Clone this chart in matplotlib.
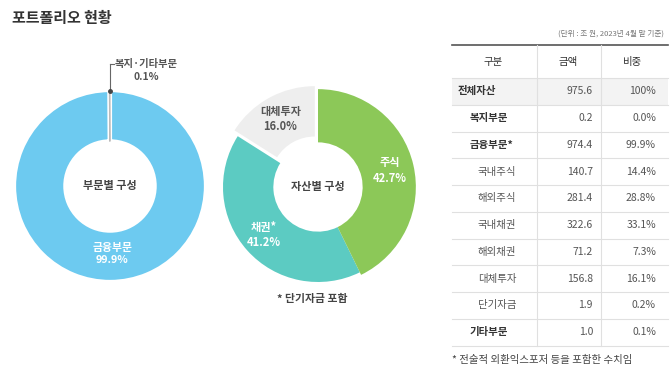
import numpy as np
import matplotlib
matplotlib.use("Agg")
import matplotlib.pyplot as plt

plt.rcParams['font.family'] = ['Noto Sans CJK KR', 'DejaVu Sans']

# ---------------- data ----------------
title = '포트폴리오 현황'
sector_labels = ['금융부문', '복지·기타부문']
sector_shares = [99.9, 0.1]
sector_center = '부문별 구성'

asset_labels = ['주식', '채권*', '대체투자']
asset_shares = [42.7, 41.2, 16.0]
asset_center = '자산별 구성'
asset_note = '* 단기자금 포함'

unit_text = '(단위 : 조 원, 2023년 4월 말 기준)'
col_headers = ['구분', '금액', '비중']
row_labels = ['전체자산', '복지부문', '금융부문*', '국내주식', '해외주식',
              '국내채권', '해외채권', '대체투자', '단기자금', '기타부문']
amounts = [975.6, 0.2, 974.4, 140.7, 281.4, 322.6, 71.2, 156.8, 1.9, 1.0]
ratios = ['100%', '0.0%', '99.9%', '14.4%', '28.8%', '33.1%', '7.3%', '16.1%', '0.2%', '0.1%']
row_level = [0, 1, 1, 2, 2, 2, 2, 2, 2, 1]
footnote = '* 전술적 외환익스포저 등을 포함한 수치임'

# ---------------- figure ----------------
W, H = 670, 376
fig = plt.figure(figsize=(W / 100, H / 100), dpi=100)
fig.patch.set_facecolor('white')

ov = fig.add_axes([0, 0, 1, 1])
ov.set_xlim(0, W)
ov.set_ylim(H, 0)
ov.axis('off')

ov.text(12, 18, title, fontsize=10.8, fontweight='bold', color='#333333',
        ha='left', va='center')

R_PX = 95
LIM = 1.2


def donut_axes(cx, cy):
    half = R_PX * LIM
    ax = fig.add_axes([(cx - half) / W, 1 - (cy + half) / H, 2 * half / W, 2 * half / H])
    ax.axis('off')
    return ax


def fix_limits(ax):
    ax.set_xlim(-LIM, LIM)
    ax.set_ylim(-LIM, LIM)
    ax.set_aspect('equal')


HOLE = 0.47

# ---- left donut ----
axL = donut_axes(110, 186)
wl, _ = axL.pie(sector_shares, startangle=90, counterclock=False,
                colors=['#6DCAF0', '#F2F2F2'], radius=1.01,
                wedgeprops=dict(width=1.01 - HOLE, edgecolor='white', linewidth=3))
fix_limits(axL)
wl[1].set_edgecolor('#BBBBBB')
wl[1].set_linewidth(0.8)
wl[1].set_zorder(3)

w = wl[0]
th = np.deg2rad((w.theta1 + w.theta2) / 2)
axL.text(0.72 * np.cos(th) + 0.02, 0.72 * np.sin(th), f'{sector_labels[0]}\n{sector_shares[0]:.1f}%',
         ha='center', va='center', fontsize=7.8, fontweight='bold', color='white', linespacing=1.25)
axL.text(0, 0, sector_center, ha='center', va='center', fontsize=8,
         fontweight='bold', color='#444444')

# leader for small slice
w = wl[1]
th = np.deg2rad((w.theta1 + w.theta2) / 2)
x0, y0 = np.cos(th), np.sin(th)
axL.plot([x0, x0], [y0, y0 + 0.28], color='#666666', lw=0.8, zorder=5, clip_on=False)
axL.plot([x0, x0 + 0.04], [y0 + 0.28, y0 + 0.28], color='#666666', lw=0.8, zorder=5, clip_on=False)
axL.plot([x0], [y0], marker='o', ms=2.5, color='#444444', zorder=6, clip_on=False)
ov.text(115, 64, sector_labels[1], ha='left', va='center', fontsize=7.4,
        fontweight='bold', color='#555555')
ov.text(146, 77, f'{sector_shares[1]:.1f}%', ha='center', va='center', fontsize=7.4,
        fontweight='bold', color='#555555')

# ---- right donut ----
axR = donut_axes(318, 187)
wr, _ = axR.pie(asset_shares, startangle=90, counterclock=False,
                colors=['#8CC858', '#5CCBC2', '#EEEEEE'], radius=1,
                explode=[0.0, 0.0, 0.07],
                wedgeprops=dict(width=1 - HOLE, edgecolor='none'))
fix_limits(axR)
# the stock slice is drawn slightly larger in the reference
wr[0].set_radius(1.03)
wr[0].set_width(1.03 - HOLE)
wr[0].set_zorder(3)

label_colors = ['white', 'white', '#555555']
label_r = [0.78, 0.76, 0.75]
for w, lab, val, c, r in zip(wr, asset_labels, asset_shares, label_colors, label_r):
    th = np.deg2rad((w.theta1 + w.theta2) / 2)
    cx, cy = w.center
    axR.text(cx + r * np.cos(th), cy + r * np.sin(th), f'{lab}\n{val:.1f}%',
             ha='center', va='center', fontsize=8, fontweight='bold', color=c,
             linespacing=1.25, zorder=5)
axR.text(0, 0, asset_center, ha='center', va='center', fontsize=8,
         fontweight='bold', color='#444444')
ov.text(312, 299, asset_note, ha='center', va='center', fontsize=7.8,
        fontweight='bold', color='#444444')

# ---------------- table ----------------
tx0, tx1 = 452, 668
vx = [537, 601]
top, head_bot = 45, 78
rh = 26.75
nrows = len(row_labels)
bottom = head_bot + rh * nrows

ov.text(664, 34, unit_text, ha='right', va='center', fontsize=5.5, color='#777777')

ov.fill_between([tx0, tx1], head_bot, head_bot + rh, color='#F3F3F3', lw=0, zorder=0)

ov.plot([tx0, tx1], [top, top], color='#555555', lw=1.2)
ov.plot([tx0, tx1], [head_bot, head_bot], color='#E0E0E0', lw=0.8)
for i in range(nrows):
    y = head_bot + rh * (i + 1)
    ov.plot([tx0, tx1], [y, y], color='#E0E0E0', lw=0.8)
for x in vx:
    ov.plot([x, x], [top, bottom], color='#E0E0E0', lw=0.8)

hy = (top + head_bot) / 2
ov.text(493, hy, col_headers[0], ha='center', va='center', fontsize=7.5, color='#333333')
ov.text(568, hy, col_headers[1], ha='center', va='center', fontsize=7.5, color='#333333')
ov.text(633, hy, col_headers[2], ha='center', va='center', fontsize=7.5, color='#333333')

level_x = [458, 470, 478]
for i, (lab, amt, rat, lv) in enumerate(zip(row_labels, amounts, ratios, row_level)):
    y = head_bot + rh * (i + 0.5)
    bold = lv < 2
    ov.text(level_x[lv], y, lab, ha='left', va='center', fontsize=7.5,
            fontweight='bold' if bold else 'normal',
            color='#333333' if bold else '#555555')
    ov.text(593, y, f'{amt:.1f}', ha='right', va='center', fontsize=7.5, color='#555555')
    ov.text(656, y, rat, ha='right', va='center', fontsize=7.5, color='#555555')

ov.text(452, 360, footnote, ha='left', va='center', fontsize=7.5, color='#444444')

fig.savefig('out.png', dpi=100, facecolor='white')
